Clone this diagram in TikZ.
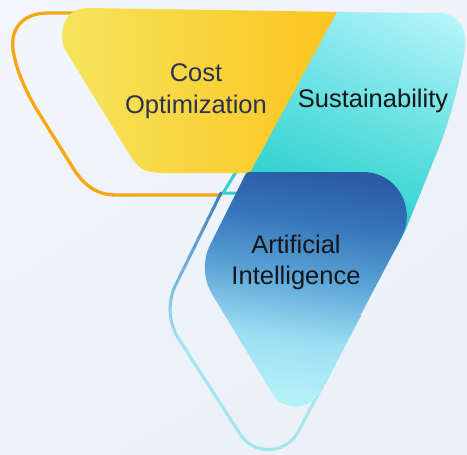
\documentclass[tikz,border=0pt]{standalone}
\usepackage{fontspec}
\setmainfont{Liberation Sans}
\usetikzlibrary{calc,shadings}
\definecolor{bgUL}{HTML}{F3F6FA}
\definecolor{bgUR}{HTML}{EFF3F8}
\definecolor{bgLL}{HTML}{EDF2F8}
\definecolor{bgLR}{HTML}{E9F0F7}
\definecolor{yelL}{HTML}{F5E55E}
\definecolor{yelR}{HTML}{FCC31C}
\definecolor{orangeLine}{HTML}{F5A714}
\definecolor{tealLine}{HTML}{36CFC8}
\definecolor{tealUL}{HTML}{80E6EF}
\definecolor{tealUR}{HTML}{BDF6FB}
\definecolor{tealLL}{HTML}{0AC8BE}
\definecolor{tealLR}{HTML}{2CD3D0}
\definecolor{aiCa}{HTML}{2A5CA6}
\definecolor{aiCb}{HTML}{3675BA}
\definecolor{aiCc}{HTML}{569FD4}
\definecolor{aiCd}{HTML}{9BDDF2}
\definecolor{aiCe}{HTML}{B3F1F8}
\pgfdeclareverticalshading{aishade}{100bp}{color(0bp)=(aiCe); color(28bp)=(aiCe);
  color(40bp)=(aiCd); color(54bp)=(aiCc); color(65bp)=(aiCb); color(75bp)=(aiCa); color(100bp)=(aiCa)}
\definecolor{aiDark}{HTML}{3A7EC2}
\definecolor{aiLight}{HTML}{A4E6EF}
\definecolor{costText}{HTML}{2B3151}
\definecolor{darkText}{HTML}{151515}
\tikzset{
  labeltext/.style={font=\fontsize{25.5}{31.5}\selectfont, inner sep=0pt, align=center},
  orangeoutline/.style={draw=orangeLine, line width=3.3pt, line cap=round, line join=round},
  tealoutline/.style={draw=tealLine, line width=3pt, line cap=round, line join=round},
  aioutline/.style={line width=3pt, line cap=round, line join=round},
}
\begin{document}
\begin{tikzpicture}[x=1pt,y=-1pt]
\useasboundingbox (0,0) rectangle (467,455);
% background
\shade[upper left=bgUL, upper right=bgUR, lower left=bgLL, lower right=bgLR] (0,0) rectangle (467,455);
% orange outline (behind cost shape)
\draw[orangeoutline] (100,13) -- (48,13) .. controls (22,13) and (8,30) .. (14,55)
  .. controls (18,75) and (28,95) .. (37,110) -- (70,163)
  .. controls (80,180) and (92,195) .. (116,195) -- (221,195);
% teal outline piece (behind sustainability shape)
\draw[tealoutline] (240,193) -- (223,193) -- (236,172) -- (250,152);
% blue outline (behind AI shape), gradient by bands
\foreach \i in {0,...,27} {
  \pgfmathtruncatemacro{\pct}{min(100,max(0,(10*\i)/150*100))}
  \begin{scope}
    \clip (0,{188+10*\i}) rectangle (467,{198.5+10*\i});
    \draw[aioutline, draw=aiLight!\pct!aiDark] (221,193) -- (175.6,285)
      .. controls (167.5,301.8) and (168.4,321.8) .. (178,337.7) -- (240,434)
      .. controls (253.6,455.5) and (286,454.5) .. (298,432) -- (360,315);
  \end{scope}
}
% cost optimization shape
\shade[left color=yelL, right color=yelR] (345,12) -- (88,8)
  .. controls (68,8) and (58,25) .. (64,48) -- (133,160)
  .. controls (140,170) and (148,173) .. (165,173) -- (262,173) -- cycle;
% sustainability shape
\shade[upper left=tealUL, upper right=tealUR, lower left=tealLL, lower right=tealLR]
  (337,12) -- (438,13) .. controls (458,13) and (468,30) .. (465,48)
  .. controls (462,75) and (450,120) .. (438,150) -- (406,229) -- (395,250)
  -- (255,250) -- (250,173) -- cycle;
% artificial intelligence shape
\shade[shading=aishade, shading angle=-8]
  (250,172) -- (363,172) .. controls (396.7,172) and (417.2,207.7) .. (401.5,237.5)
  -- (320,392) .. controls (309.9,411.1) and (283.1,411.8) .. (272,393.3)
  -- (212,294) .. controls (203.3,279.4) and (202.4,260.2) .. (210,245)
  -- (245,175) .. controls (246,173) and (247,172) .. cycle;
% labels
\node[labeltext, text=costText] (cost) at (196,91) {Cost\\Optimization};
\node[labeltext, text=darkText, anchor=base] (sust) at (373,107) {Sustainability};
\node[labeltext, text=darkText] (ai) at (296,262.5) {Artificial\\Intelligence};
\end{tikzpicture}
\end{document}
